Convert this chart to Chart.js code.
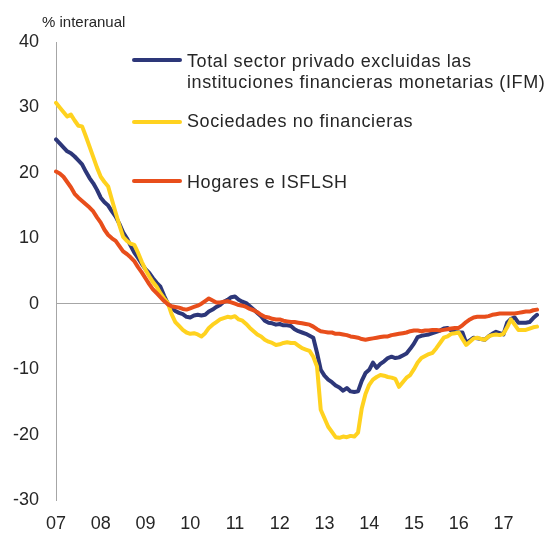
<!DOCTYPE html>
<html>
<head>
<meta charset="utf-8">
<title>Crédito al sector privado</title>
<script src="https://cdn.jsdelivr.net/npm/chart.js@4.4.1/dist/chart.umd.min.js"></script>
<style>
  body { margin: 0; background: #fff; font-family: "Liberation Sans", Arial, sans-serif; color: #262626; }
  #wrap { position: relative; width: 550px; height: 533px; }
  .note { position: absolute; font-size: 18px; line-height: 21px; letter-spacing: 0.6px; white-space: nowrap; }
  .key { position: absolute; height: 4px; width: 50px; border-radius: 2px; }
</style>
</head>
<body>
<div id="wrap">
  <canvas id="chart" width="550" height="533"></canvas>
  <!-- unit label and the hand placed legend -->
  <div class="note" style="left:42px; top:13px; font-size:15px; line-height:18px; letter-spacing:0;">% interanual</div>
  <div class="key" style="left:132px; top:58px; background:#2d3779;"></div>
  <div class="note" style="left:187px; top:51px;">Total sector privado excluidas las<br>instituciones financieras monetarias (IFM)</div>
  <div class="key" style="left:132px; top:120px; background:#ffd21f;"></div>
  <div class="note" style="left:187px; top:111px;">Sociedades no financieras</div>
  <div class="key" style="left:132px; top:179px; background:#e84e1b;"></div>
  <div class="note" style="left:187px; top:172px;">Hogares e ISFLSH</div>
</div>
<script>
// years on the x axis, one label per January
const years = ['07', '08', '09', '10', '11', '12', '13', '14', '15', '16', '17'];
const yTicks = [-30, -20, -10, 0, 10, 20, 30, 40];

// monthly data, Jan 2007 .. Oct 2017
const totalPrivado = [
  25.1, 24.5, 23.9, 23.3, 23.0, 22.5, 21.9, 21.3, 20.2, 19.2, 18.4, 17.4,
  16.2, 15.5, 15.0, 14.1, 13.3, 12.2, 10.9, 10.0, 8.9, 7.8, 7.0, 6.1,
  5.3, 4.7, 3.9, 3.2, 2.6, 1.2, 0.0, -0.6, -1.1, -1.4, -1.6, -2.0,
  -2.1, -1.8, -1.7, -1.8, -1.7, -1.2, -0.9, -0.5, -0.2, 0.3, 0.6, 1.0,
  1.1, 0.6, 0.3, 0.1, -0.4, -0.9, -1.4, -1.9, -2.6, -2.9, -3.0, -3.2,
  -3.1, -3.3, -3.3, -3.4, -3.9, -4.2, -4.4, -4.6, -4.9, -5.2, -7.5, -10.1,
  -11.0, -11.6, -12.0, -12.5, -12.8, -13.3, -12.9, -13.4, -13.5, -13.4, -11.8, -10.6,
  -10.1, -9.0, -9.8, -9.2, -8.8, -8.3, -8.1, -8.3, -8.2, -7.9, -7.6, -6.9,
  -6.1, -5.1, -4.9, -4.8, -4.7, -4.5, -4.3, -4.1, -3.8, -3.7, -4.1, -4.3,
  -4.4, -4.4, -6.0, -5.6, -5.2, -5.3, -5.4, -5.5, -5.0, -4.6, -4.3, -4.5,
  -4.7, -2.9, -2.3, -2.1, -2.9, -2.9, -2.9, -2.8, -2.2, -1.7
];
const sociedades = [
  30.7, 30.0, 29.3, 28.6, 28.9, 28.0, 27.2, 27.1, 25.6, 24.0, 22.4, 20.8,
  19.4, 18.6, 17.9, 15.9, 13.9, 12.0, 10.2, 9.6, 9.2, 9.0, 7.8, 6.4,
  5.2, 4.2, 3.3, 2.6, 1.6, 0.8, 0.1, -1.6, -2.8, -3.4, -4.0, -4.4,
  -4.6, -4.5, -4.7, -5.0, -4.5, -3.7, -3.2, -2.8, -2.4, -2.2, -2.0, -2.1,
  -1.9, -2.4, -2.6, -3.1, -3.7, -4.2, -4.7, -5.0, -5.5, -5.8, -6.0, -6.3,
  -6.2, -6.0, -5.9, -6.0, -6.0, -6.4, -6.8, -7.0, -7.2, -8.1, -9.6, -16.2,
  -17.5, -18.8, -19.6, -20.4, -20.5, -20.3, -20.4, -20.2, -20.3, -19.7, -16.0, -13.8,
  -12.4, -11.6, -11.2, -10.9, -11.0, -11.2, -11.3, -11.5, -12.7, -12.0, -11.3, -10.9,
  -10.0, -9.0, -8.3, -8.0, -7.7, -7.5, -6.8, -6.0, -5.2, -5.0, -4.6, -4.5,
  -4.4, -5.4, -6.3, -5.8, -5.3, -5.2, -5.4, -5.5, -5.0, -4.8, -4.7, -4.8,
  -4.6, -3.6, -2.4, -3.2, -4.0, -4.0, -4.0, -3.8, -3.6, -3.5
];
const hogares = [
  20.2, 19.9, 19.4, 18.6, 17.8, 16.8, 16.2, 15.7, 15.2, 14.7, 14.1, 13.2,
  12.4, 11.3, 10.5, 10.0, 9.6, 8.8, 8.0, 7.6, 7.1, 6.5, 5.6, 4.8,
  3.9, 3.0, 2.2, 1.6, 1.0, 0.4, -0.1, -0.4, -0.5, -0.6, -0.8, -0.9,
  -0.7, -0.5, -0.3, 0.0, 0.4, 0.8, 0.5, 0.2, 0.2, 0.3, 0.4, 0.2,
  0.0, -0.2, -0.3, -0.5, -0.8, -1.0, -1.3, -1.7, -2.0, -2.1, -2.3, -2.4,
  -2.4, -2.6, -2.7, -2.8, -2.8, -2.9, -3.0, -3.1, -3.2, -3.5, -3.9, -4.2,
  -4.3, -4.4, -4.4, -4.6, -4.6, -4.7, -4.8, -5.0, -5.1, -5.2, -5.4, -5.5,
  -5.4, -5.3, -5.2, -5.1, -5.0, -5.0, -4.8, -4.7, -4.6, -4.5, -4.4, -4.2,
  -4.1, -4.1, -4.2, -4.1, -4.1, -4.0, -4.0, -4.1, -4.0, -3.9, -3.8, -3.7,
  -3.7, -3.3, -2.8, -2.4, -2.1, -2.0, -2.0, -2.0, -1.9, -1.7, -1.6, -1.5,
  -1.5, -1.5, -1.5, -1.5, -1.4, -1.3, -1.2, -1.2, -1.0, -0.9
];

// one category per month, label shown only in January
const labels = totalPrivado.map((v, i) => years[Math.floor(i / 12)] + '-' + (i % 12 + 1));

const lineStyle = { borderWidth: 4, pointRadius: 0, tension: 0, fill: false, borderCapStyle: 'round', borderJoinStyle: 'round' };

const config = {
  type: 'line',
  data: {
    labels: labels,
    datasets: [
      Object.assign({ label: 'Total sector privado excluidas las instituciones financieras monetarias (IFM)', data: totalPrivado, borderColor: '#2d3779', order: 2 }, lineStyle),
      Object.assign({ label: 'Sociedades no financieras', data: sociedades, borderColor: '#ffd21f', order: 1 }, lineStyle),
      Object.assign({ label: 'Hogares e ISFLSH', data: hogares, borderColor: '#e84e1b', order: 0 }, lineStyle)
    ]
  },
  options: {
    responsive: false,
    animation: false,
    layout: { padding: { top: 42, right: 12, bottom: 0, left: 0 } },
    plugins: { legend: { display: false }, tooltip: { enabled: false } },
    scales: {
      x: {
        offset: false,
        afterFit: s => { s.height = 33; },
        grid: { display: false, drawTicks: false },
        border: { display: false },
        ticks: {
          autoSkip: false, maxRotation: 0, padding: 13,
          color: '#262626', font: { family: 'Liberation Sans', size: 18 },
          callback: (v, i) => (i % 12 === 0 ? years[i / 12] : '')
        }
      },
      y: {
        min: yTicks[0], max: yTicks[yTicks.length - 1],
        afterFit: s => { s.width = 56; },
        afterBuildTicks: s => { s.ticks = yTicks.map(v => ({ value: v })); },
        grid: { drawTicks: false, lineWidth: 1, color: c => (c.tick && c.tick.value === 0 ? '#a6a6a6' : 'rgba(0,0,0,0)') },
        border: { display: true, color: '#a6a6a6', width: 1 },
        ticks: { padding: 17, color: '#262626', font: { family: 'Liberation Sans', size: 18 } }
      }
    }
  }
};

new Chart(document.getElementById('chart').getContext('2d'), config);
</script>
</body>
</html>
